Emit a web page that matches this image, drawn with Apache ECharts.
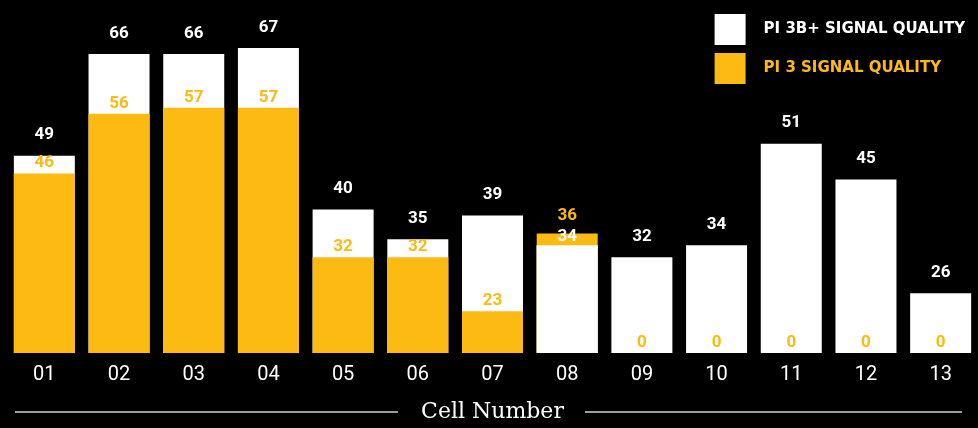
<!DOCTYPE html>
<html><head><meta charset="utf-8">
<script src="https://cdn.jsdelivr.net/npm/echarts@6/dist/echarts.min.js"></script>
<style>html,body{margin:0;padding:0;background:#000}#c{width:978px;height:428px}</style>
</head><body><div id="c"></div>
<script>
const categories = ['01','02','03','04','05','06','07','08','09','10','11','12','13'];
const pi3bPlus = [49,66,66,67,40,35,39,34,32,34,51,45,26];
const pi3 = [46,56,57,57,32,32,23,36,0,0,0,0,0];
const seriesNames = ['PI 3B+ SIGNAL QUALITY','PI 3 SIGNAL QUALITY'];
const xAxisTitle = 'Cell Number';

const WHITE = '#ffffff', YELLOW = '#FCBA12';
// where the 3B+ value is lower than the 3 value, the 3B+ bar is drawn again in front
const inFront = pi3bPlus.map((v, i) => v < pi3[i]);
const backWhiteData = pi3bPlus.map((v, i) => inFront[i] ? {value: v, label: {show: false}} : v);
const frontWhiteData = pi3bPlus.map((v, i) => inFront[i] ? v : '-');
const yellowData = pi3.map((v, i) => inFront[i] ? {value: v, label: {distance: 9}} : v);

const labelBase = {show: true, position: 'top', distance: 12, fontFamily: 'Roboto', fontWeight: 'bold', fontSize: 17};

const chart = echarts.init(document.getElementById('c'), null, {renderer: 'canvas'});
chart.setOption({
  backgroundColor: '#000',
  animation: false,
  grid: {left: 7, right: 0, top: 42, bottom: 75, containLabel: false},
  legend: {
    orient: 'vertical', right: 13, top: 14, padding: 0, icon: 'rect', itemWidth: 31, itemHeight: 31, itemGap: 8,
    selectedMode: false,
    data: [
      {name: seriesNames[0], textStyle: {color: WHITE}},
      {name: seriesNames[1], textStyle: {color: YELLOW}}
    ],
    textStyle: {fontFamily: 'DejaVu Sans', fontWeight: 'bold', fontSize: 15, padding: [0, 0, 0, 13]}
  },
  xAxis: {
    type: 'category', data: categories,
    axisLine: {show: false}, axisTick: {show: false},
    axisLabel: {color: WHITE, fontFamily: 'Roboto', fontSize: 20, margin: 12},
    name: xAxisTitle, nameLocation: 'middle', nameGap: 48,
    nameTextStyle: {color: WHITE, fontFamily: 'DejaVu Serif', fontSize: 22}
  },
  yAxis: {type: 'value', min: 16, max: 68, startValue: 16, show: false, splitLine: {show: false}},
  series: [
    {name: seriesNames[0], type: 'bar', data: backWhiteData, barWidth: 61, barGap: '-100%',
     itemStyle: {color: WHITE}, label: Object.assign({}, labelBase, {color: WHITE})},
    {name: seriesNames[1], type: 'bar', data: yellowData, barWidth: 61, barGap: '-100%',
     itemStyle: {color: YELLOW}, label: Object.assign({}, labelBase, {color: YELLOW, distance: 2})},
    {name: seriesNames[0], type: 'bar', data: frontWhiteData, barWidth: 61, barGap: '-100%',
     itemStyle: {color: WHITE}, label: Object.assign({}, labelBase, {color: WHITE, distance: 0})}
  ],
  graphic: [
    {type: 'line', shape: {x1: 15, y1: 412, x2: 398, y2: 412}, style: {stroke: '#d0d0d0', lineWidth: 1.5}},
    {type: 'line', shape: {x1: 585, y1: 412, x2: 962, y2: 412}, style: {stroke: '#d0d0d0', lineWidth: 1.5}}
  ]
});
</script></body></html>
